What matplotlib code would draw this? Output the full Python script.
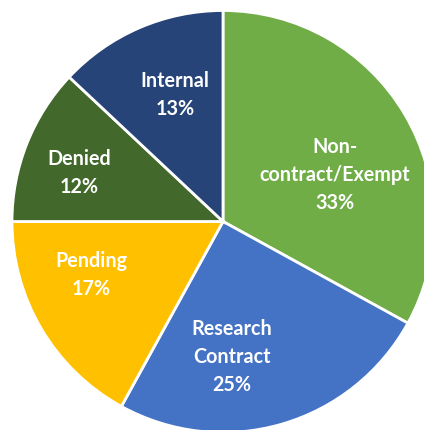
import matplotlib
matplotlib.use("Agg")
import matplotlib.pyplot as plt

labels = ["Non-\ncontract/Exempt", "Research\nContract", "Pending", "Denied", "Internal"]
values = [33, 25, 17, 12, 13]
colors = ["#70AD47", "#4472C4", "#FFC000", "#43682B", "#264478"]

W, H = 424, 430
cx, cy, R = 223, 221.5, 211
# label centres in pixel space (layout)
label_px = [(335, 175), (232, 357), (91, 275), (79, 173), (175, 95)]

fig = plt.figure(figsize=(W / 100, H / 100), dpi=100)
ax = fig.add_axes([0, 0, 1, 1])
ax.pie(values, colors=colors, startangle=90, counterclock=False, radius=1,
       wedgeprops=dict(edgecolor="white", linewidth=2))
ax.set_xlim(-cx / R, (W - cx) / R)
ax.set_ylim(-(H - cy) / R, cy / R)
ax.set_aspect("auto")
ax.axis("off")

for lab, v, (px, py) in zip(labels, values, label_px):
    x = (px - cx) / R
    y = (cy - py) / R
    ax.text(x, y, f"{lab}\n{v}%", ha="center", va="center", color="white",
            fontsize=14.2, fontweight="bold", family=["Lato", "DejaVu Sans"],
            linespacing=1.5)

fig.savefig("out.png", dpi=100)
